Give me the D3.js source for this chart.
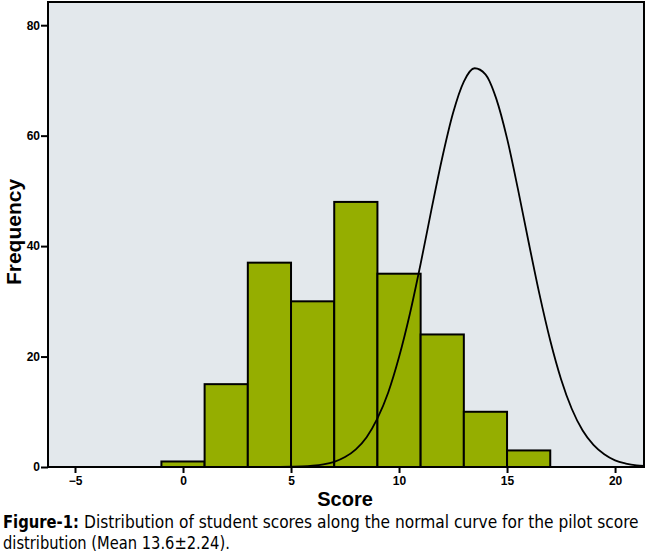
<!DOCTYPE html>
<html>
<head>
<meta charset="utf-8">
<script src="https://cdn.jsdelivr.net/npm/d3@7"></script>
<style>
  body { margin: 0; background: #fff; }
  svg { display: block; }
</style>
</head>
<body>
<div id="chart"></div>
<script>
// Histogram bins (score ranges) and counts
let binStarts = [-1, 1, 3, 5, 7, 9, 11, 13, 15];
let binWidth = 2;
let counts = [1, 15, 37, 30, 48, 35, 24, 10, 3];

// Normal curve (score, frequency)
let curveX = [4, 4.5, 5, 5.5, 6, 6.5, 7, 7.5, 8, 8.5, 9, 9.5, 10, 10.5, 11, 11.5, 12, 12.5, 13, 13.5, 14, 14.5, 15, 15.5, 16, 16.5, 17, 17.5, 18, 18.5, 19, 19.5, 20, 20.5, 21, 21.34];
let curveY = [0, 0.02, 0.05, 0.1, 0.23, 0.48, 0.94, 1.8, 3.2, 5.4, 8.8, 13.5, 19.9, 27.7, 36.8, 46.6, 56.0, 64.1, 69.8, 72.2, 71.1, 66.7, 59.5, 50.4, 40.7, 31.3, 22.9, 15.9, 10.5, 6.6, 4.0, 2.3, 1.2, 0.63, 0.3, 0.2];

let xTicks = [-5, 0, 5, 10, 15, 20];
let yTicks = [0, 20, 40, 60, 80];

let width = 650;
let height = 559;
let margin = ({top: 2, right: 6, bottom: 92, left: 48});

let labelFont = "'Liberation Sans', Arial, sans-serif";
let captionFont = "'DejaVu Sans Condensed', 'Liberation Sans Narrow', sans-serif";

let svg = d3.select("#chart")
    .append("svg")
    .attr("width", width)
    .attr("height", height)

let xScale = d3.scaleLinear()
    .domain([-6.25, 21.34])
    .range([margin.left, width - margin.right])

let yScale = d3.scaleLinear()
    .domain([0, 84.2])
    .range([height - margin.bottom, margin.top])

// plot background
svg.append("rect")
    .attr("x", margin.left)
    .attr("y", margin.top)
    .attr("width", width - margin.right - margin.left)
    .attr("height", yScale(0) - margin.top)
    .attr("fill", "#e3e8ec")

// bars
svg.selectAll(".bar")
    .data(binStarts)
    .enter()
    .append("rect")
    .attr("class", "bar")
    .attr("x", d => xScale(d))
    .attr("width", d => xScale(d + binWidth) - xScale(d))
    .attr("y", (d, i) => yScale(counts[i]))
    .attr("height", (d, i) => yScale(0) - yScale(counts[i]))
    .attr("fill", "#95ae00")
    .attr("stroke", "#000")
    .attr("stroke-width", 2)

// normal curve
let line = d3.line()
    .curve(d3.curveMonotoneX)
    .x((d, i) => xScale(curveX[i]))
    .y(d => yScale(d))

svg.append("path")
    .attr("d", line(curveY))
    .attr("fill", "none")
    .attr("stroke", "#000")
    .attr("stroke-width", 1.8)

// frame
svg.append("rect")
    .attr("x", margin.left)
    .attr("y", margin.top)
    .attr("width", width - margin.right - margin.left)
    .attr("height", yScale(0) - margin.top)
    .attr("fill", "none")
    .attr("stroke", "#000")
    .attr("stroke-width", 2)

// axes
let xAxis = d3.axisBottom(xScale).tickValues(xTicks).tickSize(6).tickSizeOuter(0)
let yAxis = d3.axisLeft(yScale).tickValues(yTicks).tickSize(7).tickSizeOuter(0)

let gx = svg.append("g")
    .attr("transform", "translate(0," + yScale(0) + ")")
    .call(xAxis)
gx.select(".domain").remove()
gx.selectAll("line").attr("stroke-width", 2)
gx.selectAll("text")
    .attr("y", 9)
    .style("font-family", labelFont)
    .style("font-weight", "bold")
    .style("font-size", "12px")
    .attr("fill", "#000")

let gy = svg.append("g")
    .attr("transform", "translate(" + margin.left + ",0)")
    .call(yAxis)
gy.select(".domain").remove()
gy.selectAll("line").attr("stroke-width", 2)
gy.selectAll("text")
    .attr("x", -8)
    .style("font-family", labelFont)
    .style("font-weight", "bold")
    .style("font-size", "12px")
    .attr("fill", "#000")

// axis titles
svg.append("text")
    .attr("x", 345)
    .attr("y", 506)
    .attr("text-anchor", "middle")
    .style("font-family", labelFont)
    .style("font-weight", "bold")
    .style("font-size", "20px")
    .text("Score")

svg.append("text")
    .attr("transform", "translate(21,232) rotate(-90)")
    .attr("text-anchor", "middle")
    .style("font-family", labelFont)
    .style("font-weight", "bold")
    .style("font-size", "21px")
    .text("Frequency")

// caption: squeeze each piece horizontally to the width it has in the figure
function caption(x, y, w, bold, str) {
    let t = svg.append("text")
        .style("font-family", captionFont)
        .style("font-weight", bold ? "bold" : "normal")
        .style("font-size", "18px")
        .text(str)
    let natural = t.node().getComputedTextLength()
    t.attr("transform", "translate(" + x + "," + y + ") scale(" + (w / natural) + ",1)")
}

caption(3, 528, 76, true, "Figure-1:")
caption(84, 528, 555, false, "Distribution of student scores along the normal curve for the pilot score")
caption(3, 549, 227, false, "distribution (Mean 13.6\u00b12.24).")
</script>
</body>
</html>
